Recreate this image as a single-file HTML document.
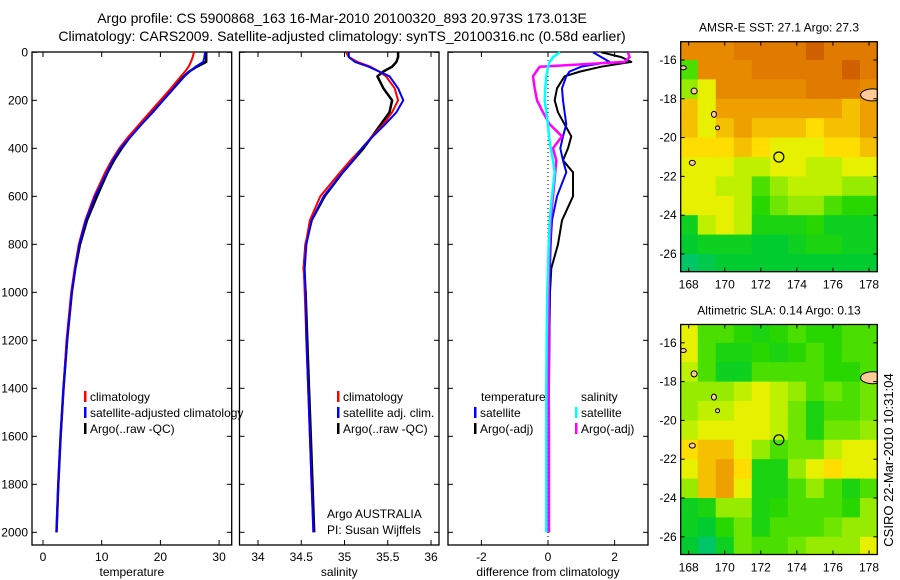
<!DOCTYPE html>
<html><head><meta charset="utf-8">
<style>
body{margin:0;background:#fff}
svg{display:block;font-family:"Liberation Sans",sans-serif}
</style></head>
<body>
<svg id="fig" width="900" height="580" xmlns="http://www.w3.org/2000/svg">
<defs>
<clipPath id="clipA"><rect x="680.7" y="41.7" width="196.6" height="230"/></clipPath>
<clipPath id="clipB"><rect x="680.7" y="324.5" width="196.6" height="230"/></clipPath>
</defs>
<rect width="900" height="580" fill="#fff"/>
<text x="342" y="23" font-size="14" text-anchor="middle">Argo profile: CS 5900868_163 16-Mar-2010 20100320_893 20.973S 173.013E</text>
<text x="342" y="41" font-size="14" text-anchor="middle">Climatology: CARS2009. Satellite-adjusted climatology: synTS_20100316.nc (0.58d earlier)</text>
<text transform="translate(893,460) rotate(-90)" font-size="13" text-anchor="middle">CSIRO 22-Mar-2010 10:31:04</text>
<g id="plots"></g>
</svg>
<script>
// ---- data ----
const depths = [0,20,40,60,80,100,150,200,250,300,350,400,450,500,600,700,800,900,1000,1200,1400,1600,1800,2000];
const tempClim = [25.7,25.5,25.2,24.8,24.2,23.5,21.8,20.0,18.2,16.4,14.6,13.0,11.7,10.6,8.7,7.2,6.1,5.4,4.8,4.0,3.5,3.0,2.6,2.3];
const tempSat  = [27.6,27.5,27.3,26.0,25.0,24.1,22.3,20.5,18.7,16.8,15.0,13.2,11.9,10.9,8.9,7.3,6.2,5.5,4.9,4.1,3.5,3.0,2.6,2.3];
const tempArgo = [27.8,27.8,27.8,26.2,24.9,24.0,22.0,20.3,18.6,16.7,14.9,13.4,12.1,11.0,9.2,7.5,6.3,5.5,4.9,4.1,3.5,3.0,2.6,2.3];
const salClim = [35.02,35.05,35.15,35.30,35.40,35.48,35.58,35.62,35.55,35.45,35.32,35.20,35.07,34.95,34.72,34.60,34.55,34.53,34.54,34.56,34.58,34.60,34.62,34.64];
const salSat  = [35.05,35.05,35.12,35.28,35.40,35.52,35.62,35.68,35.60,35.47,35.33,35.20,35.10,34.98,34.76,34.62,34.56,34.54,34.55,34.56,34.58,34.60,34.62,34.64];
const salArgo = [35.62,35.62,35.60,35.55,35.45,35.38,35.45,35.55,35.52,35.42,35.32,35.22,35.10,34.98,34.77,34.62,34.55,34.53,34.55,34.57,34.59,34.61,34.63,34.65];
const dTempSat  = [1.35,1.6,1.85,1.0,0.65,0.55,0.42,0.45,0.5,0.55,0.45,0.37,0.45,0.55,0.27,0.12,0.08,0.06,0.05,0.04,0.03,0.02,0.02,0.02];
const dTempArgo = [1.6,2.2,2.5,1.6,0.97,0.5,0.27,0.2,0.3,0.5,0.7,0.6,0.45,0.75,0.75,0.42,0.3,0.1,0.06,0.04,0.03,0.03,0.03,0.03];
const dSalSat   = [0.36,0.15,0.05,0.0,-0.02,-0.05,-0.08,-0.1,-0.05,0.0,0.03,0.08,0.15,0.2,0.12,0.05,0.02,0.0,-0.02,-0.04,-0.05,-0.05,-0.05,-0.05];
const dSalArgo  = [2.4,2.45,2.3,-0.25,-0.35,-0.45,-0.4,-0.33,-0.15,0.05,0.42,0.15,0.25,0.22,0.15,0.08,0.05,0.03,0.02,0.02,0.02,0.03,0.03,0.03];
const depthTicks = [0,200,400,600,800,1000,1200,1400,1600,1800,2000];
const tempTicks = [0,10,20,30];
const salTicks = [34,34.5,35,35.5,36];
const diffTicks = [-2,0,2];
const lonTicks = [168,170,172,174,176,178];
const latTicks = [-16,-18,-20,-22,-24,-26];
const gridLats = [-15.5,-16.5,-17.5,-18.5,-19.5,-20.5,-21.5,-22.5,-23.5,-24.5,-25.5,-26.5];
const gridLons = [168,169,170,171,172,173,174,175,176,177,178];
const sstGrid = [
[8,8,8,8.5,8.5,8.5,8.5,9,8.5,8.5,8.5],
[4,8,8,8,8.5,8.5,8.5,8.5,8.5,9,8.5],
[5,6,8,8,8,8,8,8.5,8.5,8.5,8],
[7,6,7.5,7.5,7.5,7.5,7.5,7.5,7.5,7,7.5],
[7,6,7,7.5,7,7,7,6.5,7,7,7.5],
[6.5,6.5,6.5,7,6.5,6,6,6,6.5,6.5,7],
[6,6,6,5.5,5.5,6,6,5.5,5.5,6,6],
[6,6,5.5,5.5,4,5,5.5,5.5,5.5,5,5],
[6,6,6,5.5,3.5,4.5,5,5,4,3.5,3.5],
[2.5,5.5,6,5.5,3,3,3,3.5,2.5,2.5,2.5],
[2,2.5,2.5,2.5,2,2,2.5,3,3,2.5,2.5],
[1,1.5,2,2,2,2,2,2,2,2,2]];
const slaGrid = [
[6,4,4,3.5,3,3.5,4,3.5,3.5,4,4],
[6,4,3,3,3.5,3,3.5,4,3.5,4,4],
[5.5,4,2.5,2.5,4,4,4,4,3.5,3.5,4],
[5,5,5,5.5,6,5.5,5,4,4.5,4,4.5],
[5,5.5,5.5,6,6,5.5,4.5,3,4,4,4.5],
[5.5,6,6,6,6,5.5,4.5,3,4.5,4.5,5],
[6.5,7,7,6,5,4,4.5,4.5,5.5,6,6],
[6,7,7.5,6.5,3,3,5,6,6.5,6,6],
[5,7,7.5,6,3,3,4,5,4,3,4],
[2.5,3,5,5,3,3.5,4,4,4,3.5,5],
[2.5,2,3.5,4.5,3,4,4,4,4.5,5,5],
[2,1,2.5,4.5,4,4,4.5,5,5,5,6]];
const floatLon = 173.0, floatLat = -21.0;

// ---- helpers ----
const NS="http://www.w3.org/2000/svg";
const root=document.getElementById('plots');
function mk(tag,attrs,parent){const e=document.createElementNS(NS,tag);for(const k in attrs)e.setAttribute(k,attrs[k]);(parent||root).appendChild(e);return e;}
const yD = d => 52.3 + d*0.24;

function panel(name,x0,x1,xs,ticks,fmt,label,showY){
  const g=mk('g',{});
  
  
  const r=mk('rect',{x:x0,y:52,width:x1-x0,height:493,fill:'none',stroke:'#000','stroke-width':1.3},g);
  
  
  ticks.forEach(t=>{const x=xs(t);
    mk('line',{x1:x,x2:x,y1:545,y2:540,stroke:'#000'},g);
    mk('line',{x1:x,x2:x,y1:52,y2:57,stroke:'#000'},g);
    const tx=mk('text',{x:x,y:561,'font-size':12,'text-anchor':'middle'},g);tx.textContent=fmt(t);
    
    
  });
  depthTicks.forEach(d=>{const y=yD(d);
    mk('line',{x1:x0,x2:x0+5,y1:y,y2:y,stroke:'#000'},g);
    mk('line',{x1:x1-5,x2:x1,y1:y,y2:y,stroke:'#000'},g);
    if(showY){const tx=mk('text',{x:28,y:y+4,'font-size':12,'text-anchor':'end'},g);tx.textContent=d;
      
      }
  });
  const lb=mk('text',{x:(x0+x1)/2,y:576,'font-size':12,'text-anchor':'middle'},g);lb.textContent=label;
  
  
  return g;
}
function line(g,xs,vals,color,w,name){
  const pts=vals.map((v,i)=>xs(v).toFixed(1)+','+yD(depths[i]).toFixed(1)).join(' ');
  const p=mk('polyline',{points:pts,fill:'none',stroke:color,'stroke-width':w,'stroke-linejoin':'round'},g);
  
  
}
function legend(g,x,y,color,text,name){
  mk('rect',{x:x,y:y-10,width:2.5,height:11,fill:color},g);
  const t=mk('text',{x:x+6,y:y,'font-size':12},g);t.textContent=text;
  
  
}

// temperature panel
const xT=v=>43+v*5.87;
const g1=panel('temperature-panel',32,231.7,xT,tempTicks,String,'temperature',true);
line(g1,xT,tempArgo,'#000',2.5,'temp-argo-line');
line(g1,xT,tempClim,'#f00',2,'temp-climatology-line');
line(g1,xT,tempSat,'#00f',2,'temp-satellite-line');
legend(g1,84,401,'#f00','climatology','legend-climatology');
legend(g1,84,417,'#00f','satellite-adjusted climatology','legend-satellite');
legend(g1,84,433,'#000','Argo(..raw -QC)','legend-argo');

// salinity panel
const xS=v=>258+(v-34)*86.5;
const g2=panel('salinity-panel',239.5,439,xS,salTicks,String,'salinity',false);
line(g2,xS,salArgo,'#000',2.5,'sal-argo-line');
line(g2,xS,salClim,'#f00',2,'sal-climatology-line');
line(g2,xS,salSat,'#00f',2,'sal-satellite-line');
legend(g2,337,401,'#f00','climatology','legend-climatology');
legend(g2,337,417,'#00f','satellite adj. clim.','legend-satellite');
legend(g2,337,433,'#000','Argo(..raw -QC)','legend-argo');
[['Argo AUSTRALIA',518],['PI: Susan Wijffels',534]].forEach(([s,y])=>{const t=mk('text',{x:327,y:y,'font-size':12},g2);t.textContent=s;
  
  });

// difference panel
const xF=v=>548+v*33.3;
const g3=panel('difference-panel',448,648,xF,diffTicks,String,'difference from climatology',false);
mk('line',{x1:xF(0),x2:xF(0),y1:52,y2:545,stroke:'#000','stroke-dasharray':'1,3'},g3);
line(g3,xF,dTempArgo,'#000',2,'diff-temp-argo-line');
line(g3,xF,dTempSat,'#00f',2,'diff-temp-satellite-line');
line(g3,xF,dSalArgo,'#f0f',2.5,'diff-sal-argo-line');
line(g3,xF,dSalSat,'#0ff',2.5,'diff-sal-satellite-line');
[['temperature',481,401],['salinity',581,401]].forEach(([s,x,y])=>{const t=mk('text',{x:x,y:y,'font-size':12},g3);t.textContent=s;
  
  });
legend(g3,474,417,'#00f','satellite','legend-temp-satellite');
legend(g3,474,433,'#000','Argo(-adj)','legend-temp-argo');
legend(g3,575,417,'#0ff','satellite','legend-sal-satellite');
legend(g3,575,433,'#f0f','Argo(-adj)','legend-sal-argo');

// maps
const cStops=[[0,[0,192,160]],[2,[0,204,48]],[3.5,[40,215,0]],[4.5,[110,230,0]],[5.5,[190,240,0]],[6,[230,240,0]],[6.5,[255,221,0]],[7,[245,192,0]],[7.5,[238,160,0]],[8,[232,138,0]],[8.5,[224,122,0]],[9,[208,96,0]]];
function cmap(v){for(let i=1;i<cStops.length;i++){if(v<=cStops[i][0]){const a=cStops[i-1],b=cStops[i],f=(v-a[0])/(b[0]-a[0]);return 'rgb('+a[1].map((c,k)=>Math.round(c+(b[1][k]-c)*f)).join(',')+')';}}return 'rgb(208,96,0)';}
function mapPanel(name,top,grid,title,clip){
  const g=mk('g',{});
  
  
  const gc=mk('g',{'clip-path':'url(#'+clip+')'},g);
  
  
  const x0=680.7,x1=877.3,bot=top+230;
  const lx=lon=>688.7+(lon-168)*18.03;
  const ly=lat=>top+18.3+(-16-lat)*19.4;
  grid.forEach((row,i)=>row.forEach((v,j)=>{
    const xa=Math.max(x0,lx(gridLons[j]-0.5)),xb=Math.min(x1,lx(gridLons[j]+0.5));
    const ya=Math.max(top,ly(gridLats[i]+0.5)),yb=Math.min(bot,ly(gridLats[i]-0.5));
    const c=mk('rect',{x:xa,y:ya,width:xb-xa+0.5,height:yb-ya+0.5,fill:cmap(v)},gc);
    
    
  }));
  [[178.2,-17.8,12,6],[168.3,-17.6,3,3],[169.4,-18.8,2.5,3],[168.2,-21.3,3,2.5],[169.6,-19.5,2,2],[167.7,-16.4,3,2]].forEach(([lo,la,rx,ry])=>{
    const e=mk('ellipse',{cx:lx(lo),cy:ly(la),rx:rx,ry:ry,fill:'#fc9',stroke:'#000','stroke-width':1},gc);
    
    
  });
  const c=mk('circle',{cx:lx(floatLon),cy:ly(floatLat),r:5,fill:'none',stroke:'#000','stroke-width':1.2},g);
  
  
  const r=mk('rect',{x:x0,y:top,width:x1-x0,height:230,fill:'none',stroke:'#000','stroke-width':1.3},g);
  
  
  lonTicks.forEach(t=>{const x=lx(t);mk('line',{x1:x,x2:x,y1:bot,y2:bot-4,stroke:'#000'},g);mk('line',{x1:x,x2:x,y1:top,y2:top+4,stroke:'#000'},g);
    const tx=mk('text',{x:x,y:bot+17,'font-size':12,'text-anchor':'middle'},g);tx.textContent=t;
    
    });
  latTicks.forEach(t=>{const y=ly(t);mk('line',{x1:x0,x2:x0+4,y1:y,y2:y,stroke:'#000'},g);mk('line',{x1:x1-4,x2:x1,y1:y,y2:y,stroke:'#000'},g);
    const tx=mk('text',{x:x0-4,y:y+4,'font-size':12,'text-anchor':'end'},g);tx.textContent=t;
    
    });
  const tt=mk('text',{x:779,y:top-10,'font-size':12,'text-anchor':'middle'},g);tt.textContent=title;
  
  
}
mapPanel('sst-map',41.7,sstGrid,'AMSR-E SST: 27.1  Argo: 27.3','clipA');
mapPanel('sla-map',324.5,slaGrid,'Altimetric SLA: 0.14  Argo: 0.13','clipB');
</script>
</body></html>
